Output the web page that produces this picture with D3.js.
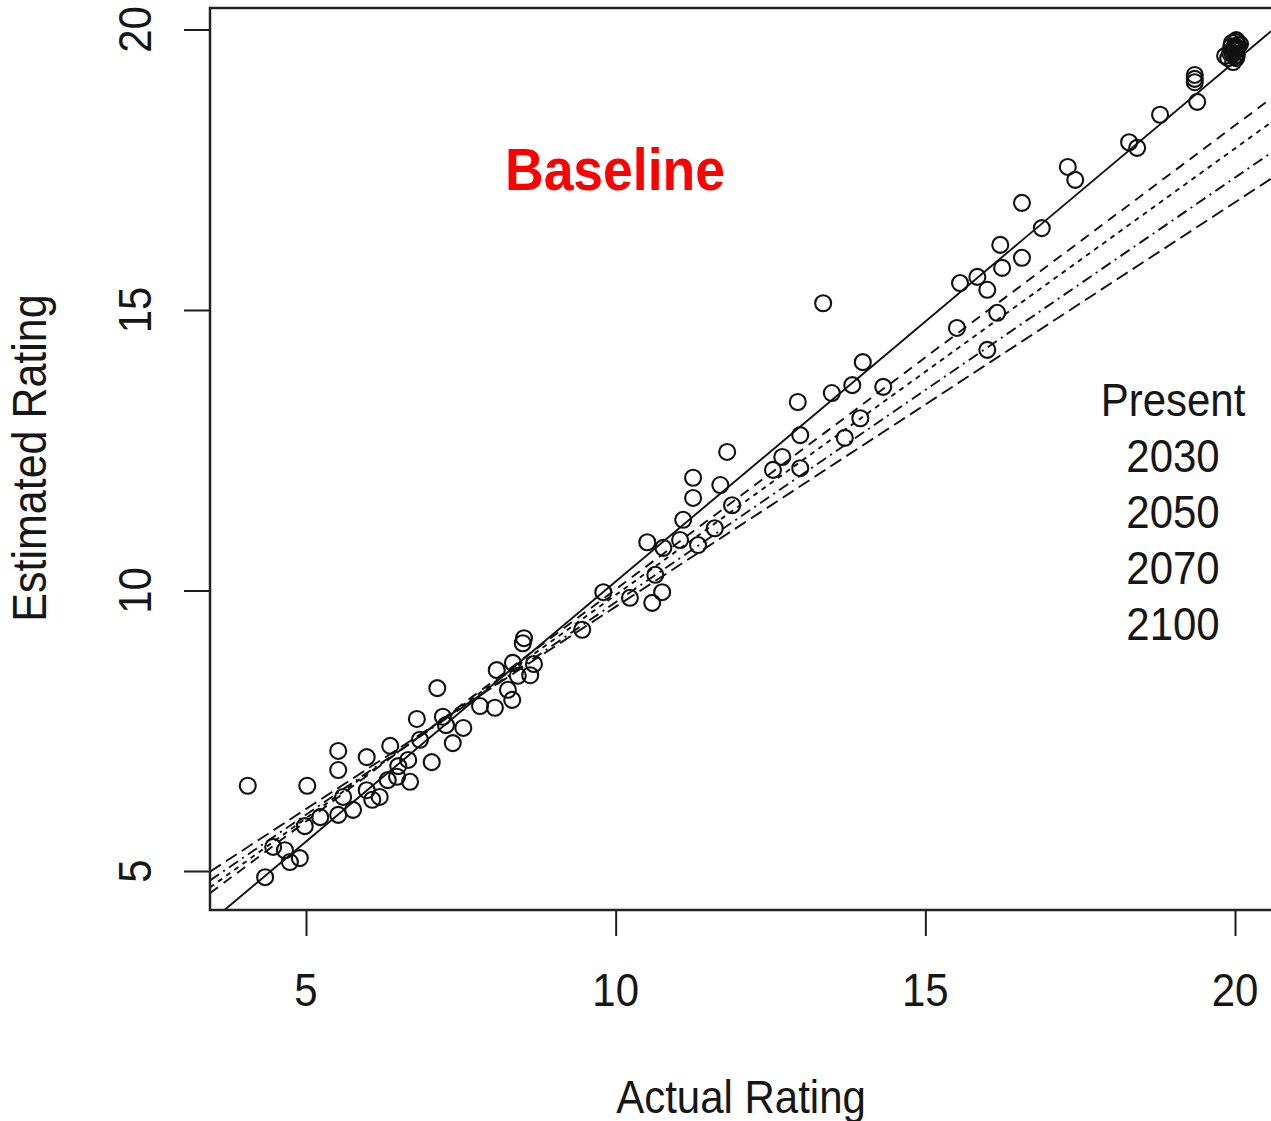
<!DOCTYPE html>
<html>
<head>
<meta charset="utf-8">
<script src="https://cdn.jsdelivr.net/npm/d3@7"></script>
<style>
  body { margin: 0; background: #fff; }
  svg { display: block; }
  text { font-family: "Liberation Sans", Arial, sans-serif; fill: #161616; }
</style>
</head>
<body>
<div class="canvas"></div>
<script>
// points
const actualRating = [
  4.06, 5.02, 4.34, 4.47, 4.74, 4.9, 4.98, 4.66, 5.23, 5.52, 5.52, 5.52, 5.6, 5.76,
  5.98, 5.98, 6.07, 6.19, 6.32, 6.36, 6.47, 6.49, 6.65, 6.68, 6.79, 6.84, 7.03, 7.12,
  7.21, 7.26, 7.37, 7.54, 7.81, 8.05, 8.08, 8.26, 8.33, 8.34, 8.42, 8.5, 8.52, 8.62,
  8.68, 9.46, 9.8, 10.23, 10.59, 10.75, 10.64, 10.51, 10.77, 11.04, 11.33, 11.09,
  11.6, 11.88, 11.25, 11.25, 11.69, 11.8, 12.54, 12.69, 12.98, 12.98, 12.94, 13.7,
  13.95, 13.49, 13.82, 14.32, 13.99, 13.35, 15.51, 15.56, 15.84, 16.0, 16.24, 16.16,
  16.0, 16.21, 16.56, 16.56, 16.88, 17.3, 17.42, 18.29, 18.42, 18.79, 19.35, 19.35,
  19.35, 19.39, 19.95, 19.92, 19.89, 20.02, 19.98, 20.03, 19.84, 20.05, 19.97, 20.0,
  20.02, 19.95, 20.08, 20.0, 19.99, 20.01, 19.97, 20.03, 19.94, 20.0
];
const estimatedRating = [
  6.52, 6.52, 4.89, 5.43, 5.16, 5.23, 5.8, 5.37, 5.96, 7.14, 6.8, 6.0, 6.32, 6.09,
  7.03, 6.44, 6.27, 6.32, 6.62, 7.23, 6.68, 6.87, 6.98, 6.59, 7.71, 7.34, 6.94, 8.26,
  7.75, 7.6, 7.28, 7.55, 7.94, 7.91, 8.58, 8.23, 8.05, 8.71, 8.48, 9.06, 9.15, 8.49,
  8.69, 9.3, 9.97, 9.87, 9.78, 9.97, 10.28, 10.86, 10.76, 10.9, 10.81, 11.26,
  11.11, 11.52, 12.01, 11.65, 11.88, 12.47, 12.15, 12.38, 12.18, 12.77, 13.36, 12.72,
  13.07, 13.52, 13.66, 13.63, 14.07, 15.12, 14.68, 15.48, 15.59, 15.36, 15.75, 14.95,
  14.29, 16.16, 15.93, 16.91, 16.46, 17.55, 17.32, 17.99, 17.89, 18.48, 19.19, 19.06,
  19.12, 18.71, 19.76, 19.58, 19.49, 19.81, 19.67, 19.55, 19.53, 19.72, 19.42, 19.64,
  19.49, 19.6, 19.74, 19.7, 19.62, 19.78, 19.56, 19.68, 19.7, 19.52
];

// fitted lines: estimated = intercept + slope * actual
const scenarioNames = ["Present", "2030", "2050", "2070", "2100"];
const scenarioIntercepts = [0.89, 1.75, 1.96, 2.22, 2.5];
const scenarioSlopes = [0.927, 0.827, 0.796, 0.757, 0.721];

const xTicks = [5, 10, 15, 20];
const yTicks = [5, 10, 15, 20];

const W = 1271;
const H = 1121;
const plot = { left: 210, top: 8, right: 1271, bottom: 910 };
const dashes = ["none", "10,7", "5,5", "11,5,2,5", "13,6"];
const stretch = "scale(1, 1.12)";

const x = d3.scaleLinear().domain([3.45, 20.581]).range([plot.left, plot.right]);
const y = d3.scaleLinear().domain([4.305, 20.383]).range([plot.bottom, plot.top]);

const svg = d3
  .select(".canvas")
  .append("svg")
  .attr("width", W)
  .attr("height", H);

svg.append("rect").attr("width", W).attr("height", H).attr("fill", "#fff");

svg
  .append("clipPath")
  .attr("id", "clip")
  .append("rect")
  .attr("x", plot.left)
  .attr("y", plot.top)
  .attr("width", plot.right - plot.left)
  .attr("height", plot.bottom - plot.top);

// axes, labels drawn by hand below
const xAxis = d3.axisBottom(x).tickValues(xTicks).tickSize(26).tickFormat("");
const yAxis = d3.axisLeft(y).tickValues(yTicks).tickSize(26).tickFormat("");

const gx = svg
  .append("g")
  .attr("transform", `translate(0, ${plot.bottom})`)
  .call(xAxis);
gx.select(".domain").remove();
gx.selectAll("line").attr("stroke", "#1c1c1c").attr("stroke-width", 2);

const gy = svg
  .append("g")
  .attr("transform", `translate(${plot.left}, 0)`)
  .call(yAxis);
gy.select(".domain").remove();
gy.selectAll("line").attr("stroke", "#1c1c1c").attr("stroke-width", 2);

svg
  .selectAll(".xlab")
  .data(xTicks)
  .enter()
  .append("text")
  .attr("class", "xlab")
  .attr("transform", (d) => `translate(${x(d)}, 1006) ${stretch}`)
  .attr("text-anchor", "middle")
  .attr("font-size", 42)
  .text((d) => d);

// y tick labels run along the axis
svg
  .selectAll(".ylab")
  .data(yTicks)
  .enter()
  .append("text")
  .attr("class", "ylab")
  .attr("transform", (d) => `translate(151, ${y(d)}) rotate(-90) ${stretch}`)
  .attr("text-anchor", "middle")
  .attr("font-size", 42)
  .text((d) => d);

// fitted lines
const line = d3
  .line()
  .x((d) => x(d[0]))
  .y((d) => y(d[1]));

const lines = svg.append("g").attr("clip-path", "url(#clip)");
scenarioNames.forEach((name, i) => {
  const ends = x.domain().map((v) => [v, scenarioIntercepts[i] + scenarioSlopes[i] * v]);
  lines
    .append("path")
    .datum(ends)
    .attr("d", line)
    .attr("fill", "none")
    .attr("stroke", "#111")
    .attr("stroke-width", 1.9)
    .attr("stroke-dasharray", dashes[i]);
});

// points
svg
  .append("g")
  .attr("clip-path", "url(#clip)")
  .selectAll("circle")
  .data(actualRating)
  .enter()
  .append("circle")
  .attr("cx", (d) => x(d))
  .attr("cy", (d, i) => y(estimatedRating[i]))
  .attr("r", 8)
  .attr("fill", "none")
  .attr("stroke", "#111")
  .attr("stroke-width", 2.1);

// frame (right side runs off the picture)
svg
  .append("path")
  .attr("d", `M${W + 5},${plot.top}H${plot.left}V${plot.bottom}H${W + 5}`)
  .attr("fill", "none")
  .attr("stroke", "#222")
  .attr("stroke-width", 2.5);

// legend, text only
svg
  .append("g")
  .selectAll("text")
  .data(scenarioNames)
  .enter()
  .append("text")
  .attr("transform", (d, i) => `translate(1173, ${416 + i * 56}) ${stretch}`)
  .attr("text-anchor", "middle")
  .attr("font-size", 42)
  .text((d) => d);

svg
  .append("text")
  .attr("transform", `translate(741, 1113) ${stretch}`)
  .attr("text-anchor", "middle")
  .attr("font-size", 42)
  .text("Actual Rating");

svg
  .append("text")
  .attr("transform", `translate(46, 458) rotate(-90) ${stretch}`)
  .attr("text-anchor", "middle")
  .attr("font-size", 43)
  .text("Estimated Rating");

svg
  .append("text")
  .attr("x", 505)
  .attr("y", 190)
  .attr("font-family", "Lato, 'Open Sans', sans-serif")
  .attr("font-weight", "bold")
  .attr("font-size", 60)
  .attr("textLength", 220)
  .attr("lengthAdjust", "spacingAndGlyphs")
  .style("fill", "#ff0000")
  .text("Baseline");
</script>
</body>
</html>
